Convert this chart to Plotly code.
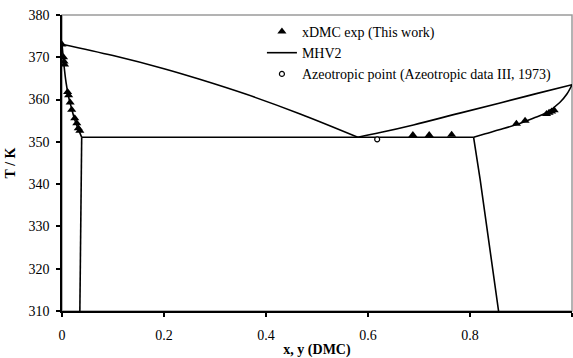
import plotly.graph_objects as go

# Experimental xDMC points
exp_x = [0.0, 0.003, 0.004, 0.005, 0.011, 0.013, 0.016, 0.019, 0.025, 0.029, 0.032, 0.035,
         0.688, 0.720, 0.764,
         0.891, 0.908, 0.950, 0.955, 0.960, 0.965]
exp_T = [373.0, 370.0, 369.0, 368.3, 361.8, 361.0, 359.3, 357.6, 355.6, 354.4, 353.2, 352.6,
         351.6, 351.6, 351.7,
         354.3, 355.0, 356.6, 356.9, 357.2, 357.5]

# Azeotropic point
az_x = [0.618]
az_T = [350.6]

# MHV2 model curves
left_liq_x = [0.0386, 0.032, 0.025, 0.019, 0.013, 0.008, 0.004, 0.0]
left_liq_T = [351.1, 353.0, 355.2, 357.8, 360.6, 364.0, 368.0, 373.1]
dew_left_x = [0.0, 0.1, 0.2, 0.27, 0.36, 0.467, 0.58]
dew_left_T = [373.1, 370.4, 367.3, 364.8, 361.3, 356.6, 351.1]
dew_right_x = [0.58, 0.624, 0.689, 0.78, 0.859, 0.93, 1.0]
dew_right_T = [351.1, 352.2, 354.0, 356.8, 359.2, 361.4, 363.5]
right_liq_x = [1.0, 0.99, 0.976, 0.95, 0.924, 0.891, 0.859, 0.83, 0.807]
right_liq_T = [363.5, 361.3, 359.3, 356.9, 355.6, 354.1, 352.9, 351.9, 351.1]
lle_right_x = [0.807, 0.82, 0.856]
lle_right_T = [351.1, 341.0, 310.0]
three_phase_x = [0.807, 0.0386]
three_phase_T = [351.1, 351.1]
lle_left_x = [0.0386, 0.037, 0.035]
lle_left_T = [351.1, 330.0, 310.0]

segments = [
    (three_phase_x, three_phase_T, "linear"),
    (left_liq_x, left_liq_T, "spline"),
    (dew_left_x, dew_left_T, "spline"),
    (dew_right_x, dew_right_T, "spline"),
    (right_liq_x, right_liq_T, "spline"),
    (lle_right_x, lle_right_T, "linear"),
    (lle_left_x, lle_left_T, "linear"),
]

fig = go.Figure()
fig.add_trace(go.Scatter(x=exp_x, y=exp_T, mode="markers", name="xDMC exp (This work)",
                         marker=dict(symbol="triangle-up", size=8, color="black")))
for i, (sx, sy, shape) in enumerate(segments):
    fig.add_trace(go.Scatter(x=sx, y=sy, mode="lines", name="MHV2", legendgroup="mhv2",
                             showlegend=(i == 0),
                             line=dict(color="black", width=1.6, shape=shape, smoothing=1.0)))
fig.add_trace(go.Scatter(x=az_x, y=az_T, mode="markers",
                         name="Azeotropic point (Azeotropic data III, 1973)",
                         marker=dict(symbol="circle", size=5, color="white",
                                     line=dict(color="black", width=1.2))))

font = dict(family="Liberation Serif, Times New Roman, serif", size=14, color="black")

fig.update_layout(
    width=573, height=358,
    margin=dict(l=62, r=1, t=15, b=47),
    paper_bgcolor="white", plot_bgcolor="white",
    font=font,
    showlegend=True,
    legend=dict(x=0.392, y=0.997, xanchor="left", yanchor="top",
                bgcolor="rgba(0,0,0,0)", font=dict(size=14),
                itemwidth=30, tracegroupgap=0),
    shapes=[dict(type="rect", xref="paper", yref="paper", x0=0, y0=0, x1=1, y1=1,
                 line=dict(color="#9a9a9a", width=1.5), layer="below")],
)
fig.update_xaxes(range=[0, 1], tickvals=[0, 0.2, 0.4, 0.6, 0.8, 1],
                 ticktext=["0", "0.2", "0.4", "0.6", "0.8", "1"],
                 showgrid=False, zeroline=False, showline=True, linecolor="black", linewidth=1.5,
                 ticks="outside", ticklen=4, tickwidth=1.5, tickcolor="black",
                 ticklabelstandoff=6,
                 title=dict(text="<b>x, y (DMC)</b>", font=dict(size=14), standoff=4))
fig.update_yaxes(range=[310, 380], dtick=10,
                 showgrid=False, zeroline=False, showline=True, linecolor="black", linewidth=1.5,
                 ticks="outside", ticklen=4, tickwidth=1.5, tickcolor="black",
                 ticklabelstandoff=4,
                 title=dict(text="<b>T / K</b>", font=dict(size=14), standoff=10))

fig.write_html("out.html")
